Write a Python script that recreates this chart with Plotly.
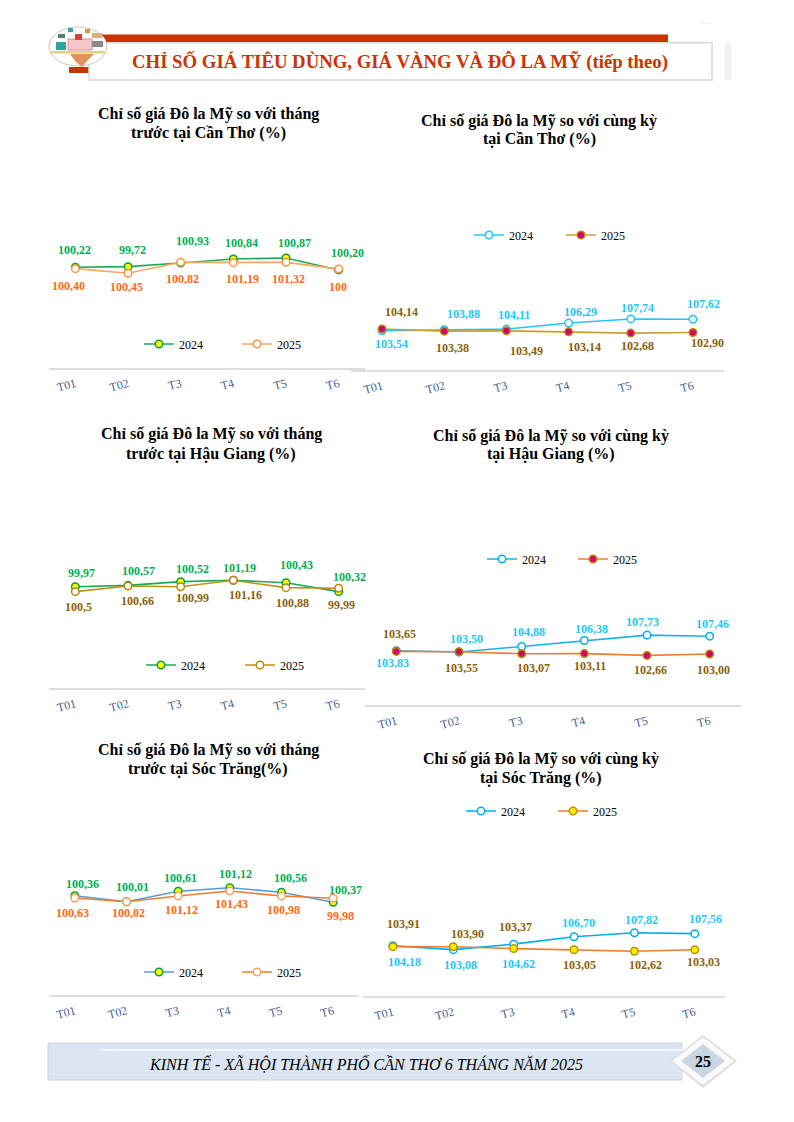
import plotly.graph_objects as go

W = 794
H = 1122
SERIF = "Liberation Serif"

months = ["T01", "T02", "T3", "T4", "T5", "T6"]
series_names = ["2024", "2025"]

# month on month panels: the lines do not sit where their printed labels say,
# so heights read off the lines are kept apart from the printed text
ct_mom_2024 = [100.2, 100.28, 100.74, 101.24, 101.36, 99.87]
ct_mom_2025 = [100.03, 99.45, 100.82, 100.78, 100.82, 100.0]
ct_mom_2024_text = ["100,22", "99,72", "100,93", "100,84", "100,87", "100,20"]
ct_mom_2025_text = ["100,40", "100,45", "100,82", "101,19", "101,32", "100"]

hg_mom_2024 = [100.0, 100.17, 100.63, 100.8, 100.5, 99.38]
hg_mom_2025 = [99.38, 100.09, 100.0, 100.8, 99.88, 99.8]
hg_mom_2024_text = ["99,97", "100,57", "100,52", "101,19", "100,43", "100,32"]
hg_mom_2025_text = ["100,5", "100,66", "100,99", "101,16", "100,88", "99,99"]

st_mom_2024 = [100.36, 99.61, 100.91, 101.36, 100.79, 99.54]
st_mom_2025 = [100.07, 99.61, 100.32, 100.95, 100.32, 100.04]
st_mom_2024_text = ["100,36", "100,01", "100,61", "101,12", "100,56", "100,37"]
st_mom_2025_text = ["100,63", "100,02", "101,12", "101,43", "100,98", "99,98"]

# same period panels
ct_yoy_2024 = [103.54, 103.88, 104.11, 106.29, 107.74, 107.62]
ct_yoy_2025 = [104.14, 103.38, 103.49, 103.14, 102.68, 102.90]
ct_yoy_2024_text = ["103,54", "103,88", "104,11", "106,29", "107,74", "107,62"]
ct_yoy_2025_text = ["104,14", "103,38", "103,49", "103,14", "102,68", "102,90"]

hg_yoy_2024 = [103.83, 103.50, 104.88, 106.38, 107.73, 107.46]
hg_yoy_2025 = [103.65, 103.55, 103.07, 103.11, 102.66, 103.00]
hg_yoy_2024_text = ["103,83", "103,50", "104,88", "106,38", "107,73", "107,46"]
hg_yoy_2025_text = ["103,65", "103,55", "103,07", "103,11", "102,66", "103,00"]

st_yoy_2024 = [104.18, 103.08, 104.62, 106.70, 107.82, 107.56]
st_yoy_2025 = [103.91, 103.90, 103.37, 103.05, 102.62, 103.03]
st_yoy_2024_text = ["104,18", "103,08", "104,62", "106,70", "107,82", "107,56"]
st_yoy_2025_text = ["103,91", "103,90", "103,37", "103,05", "102,62", "103,03"]

GREEN = "#00b050"
ORANGE = "#ff6a13"
BROWN = "#8a5f0a"
CYAN = "#1cc8f8"


def px(x):
    return x / W


def py(y):
    return 1 - y / H


# box = left, right, top, bottom in page pixels; scale = pixels per index point,
# anchor = a value and the page height it sits at
panels = [
    dict(title=["Chỉ số giá Đô la Mỹ so với tháng", "trước tại Cần Thơ (%)"], title_xy=(208, 123.5),
         box=(49, 365, 170, 367.7), scale=8, anchor=(100.2, 267.3), legend_xy=(146, 344), gap=97,
         a=(ct_mom_2024, ct_mom_2024_text, "#1aa85a", "#ffff00", "#00a040", GREEN),
         b=(ct_mom_2025, ct_mom_2025_text, "#f8a860", "#ffffff", "#f79646", ORANGE),
         a_off=[(-1, -17), (4, -17), (12, -22), (8, -16), (8, -15), (9, -17)],
         b_off=[(-7, 17), (-2, 14), (2, 17), (9, 16), (2, 17), (-1, 18)]),
    dict(title=["Chỉ số giá Đô la Mỹ so với cùng kỳ", "tại Cần Thơ (%)"], title_xy=(539, 130),
         box=(351, 724, 170, 370), scale=2.8, anchor=(103.54, 330.7), legend_xy=(476, 235), gap=91,
         a=(ct_yoy_2024, ct_yoy_2024_text, "#1cc8f8", "#ffffff", "#1cc8f8", CYAN),
         b=(ct_yoy_2025, ct_yoy_2025_text, "#c8a030", "#d6006e", "#b8860b", BROWN),
         a_off=[(9, 13), (19, -16), (8, -14), (12, -11), (7, -11), (11, -15)],
         b_off=[(19, -17), (8, 17), (20, 20), (16, 15), (7, 13), (15, 11)]),
    dict(title=["Chỉ số giá Đô la Mỹ so với tháng", "trước tại Hậu Giang (%)"], title_xy=(211, 444),
         box=(49, 365, 490, 688), scale=8, anchor=(100, 586.7), legend_xy=(148, 665), gap=98,
         a=(hg_mom_2024, hg_mom_2024_text, "#1aa85a", "#ffff00", "#00a040", GREEN),
         b=(hg_mom_2025, hg_mom_2025_text, "#c09010", "#ffffff", "#b8860b", BROWN),
         a_off=[(6, -14), (10, -14), (12, -13), (6, -12), (10, -18), (11, -15)],
         b_off=[(3, 15), (9, 15), (12, 11), (12, 15), (6, 15), (3, 17)]),
    dict(title=["Chỉ số giá Đô la Mỹ so với cùng kỳ", "tại Hậu Giang (%)"], title_xy=(551, 445),
         box=(365, 741, 490, 705), scale=4.0, anchor=(103.83, 650.7), legend_xy=(489, 559), gap=90,
         a=(hg_yoy_2024, hg_yoy_2024_text, "#1ab2e8", "#ffffff", "#00aeef", CYAN),
         b=(hg_yoy_2025, hg_yoy_2025_text, "#ed7d31", "#d6006e", "#b8860b", BROWN),
         a_off=[(-4, 12), (7, -13), (7, -15), (7, -12), (-5, -13), (3, -12)],
         b_off=[(3, -17), (2, 16), (12, 14), (6, 12), (3, 15), (4, 16)]),
    dict(title=["Chỉ số giá Đô la Mỹ so với tháng", "trước tại Sóc Trăng(%)"], title_xy=(208, 759.5),
         box=(49, 359, 800, 995), scale=8, anchor=(100.36, 895.7), legend_xy=(146, 972), gap=97,
         a=(st_mom_2024, st_mom_2024_text, "#5b9bd5", "#ffff00", "#00a040", GREEN),
         b=(st_mom_2025, st_mom_2025_text, "#ed7d31", "#ffffff", "#f4a460", ORANGE),
         a_off=[(8, -12), (6, -15), (2, -13), (6, -14), (9, -14), (12, -12)],
         b_off=[(-2, 15), (2, 11), (3, 14), (2, 13), (2, 14), (7, 18)]),
    dict(title=["Chỉ số giá Đô la Mỹ so với cùng kỳ", "tại Sóc Trăng (%)"], title_xy=(541, 768),
         box=(362.7, 725, 800, 996.3), scale=3.57, anchor=(104.18, 945.7), legend_xy=(468, 811), gap=91,
         a=(st_yoy_2024, st_yoy_2024_text, "#00aeef", "#ffffff", "#00aeef", CYAN),
         b=(st_yoy_2025, st_yoy_2025_text, "#ed7d31", "#ffee00", "#c09000", BROWN),
         a_off=[(12, 16), (7, 15), (5, 20), (4, -14), (7, -13), (11, -15)],
         b_off=[(11, -23), (14, -13), (2, -22), (5, 15), (11, 14), (9, 12)]),
]

fig = go.Figure()
annotations = []
layout_extra = {}

for i, p in enumerate(panels):
    n = "" if i == 0 else str(i + 1)
    xname = "x" + n
    yname = "y" + n
    legname = "legend" + n
    left, right, top, bottom = p["box"]
    v0, y0 = p["anchor"]
    ymin = v0 - (bottom - y0) / p["scale"]
    ymax = v0 + (y0 - top) / p["scale"]

    layout_extra["xaxis" + n] = dict(
        domain=[px(left), px(right)], anchor=yname, type="category",
        categoryorder="array", categoryarray=months, range=[-0.5, 5.5],
        showgrid=False, zeroline=False, showline=True, linecolor="#dedede", linewidth=1.5,
        ticks="", tickangle=-15, ticklabelstandoff=3,
        tickfont=dict(family=SERIF, size=12, color="#4a5f96"),
    )
    layout_extra["yaxis" + n] = dict(
        domain=[py(bottom), py(top)], anchor=xname, range=[ymin, ymax],
        visible=False, showgrid=False, zeroline=False,
    )
    lx, ly = p["legend_xy"]
    layout_extra[legname] = dict(
        x=px(lx - 7), y=py(ly), xanchor="left", yanchor="middle", orientation="h",
        bgcolor="rgba(0,0,0,0)", itemwidth=30, entrywidth=p["gap"] - 44, entrywidthmode="pixels",
        font=dict(family=SERIF, size=12, color="#000000"), itemclick=False, itemdoubleclick=False,
        tracegroupgap=0,
    )

    for name, s, off in ((series_names[0], p["a"], p["a_off"]), (series_names[1], p["b"], p["b_off"])):
        vals, texts, line_c, fill_c, border_c, text_c = s
        fig.add_trace(go.Scatter(
            x=months, y=vals, name=name, mode="lines+markers", xaxis=xname, yaxis=yname, legend=legname,
            line=dict(color=line_c, width=1.6),
            marker=dict(size=7.5, color=fill_c, line=dict(color=border_c, width=1.5)),
            hoverinfo="skip",
        ))
        for m, v, t, (dx, dy) in zip(months, vals, texts, off):
            annotations.append(dict(
                x=m, y=v, xref=xname, yref=yname, text="<b>" + t + "</b>", showarrow=False,
                xshift=dx, yshift=-dy, xanchor="center", yanchor="middle",
                font=dict(family=SERIF, size=12, color=text_c),
            ))

    tx, ty = p["title_xy"]
    for line_y, line_text in zip((ty - 9.5, ty + 9.5), p["title"]):
        annotations.append(dict(
            x=px(tx), y=py(line_y), xref="paper", yref="paper", text="<b>" + line_text + "</b>",
            showarrow=False, xanchor="center", yanchor="middle",
            font=dict(family=SERIF, size=16, color="#000000"),
        ))


def rect(x0, y0, x1, y1, fill, line=None, lw=1, kind="rect"):
    return dict(type=kind, xref="paper", yref="paper", x0=px(x0), x1=px(x1), y0=py(y0), y1=py(y1),
                fillcolor=fill, line=dict(color=line or fill, width=lw if line else 0), layer="below")


def poly(points, fill, line=None, lw=1):
    d = "M " + " L ".join(f"{px(a):.5f},{py(b):.5f}" for a, b in points) + " Z"
    return dict(type="path", xref="paper", yref="paper", path=d, fillcolor=fill,
                line=dict(color=line or fill, width=lw if line else 0), layer="below")


shapes = [
    # header
    rect(100, 34.5, 668, 42.3, "#cc3300"),
    rect(69, 67, 89, 73, "#cc3300"),
    rect(89, 42.7, 712, 80, "#ffffff", "#d8d8d8", 1.5),
    rect(725, 43, 731, 80, "#f1f1f1"),
    rect(700, 23, 712, 23.6, "#eeeeee"),
    # basket picture in the header, roughly
    rect(49, 27, 107, 66, "#ffffff", "#c8c8c8", 1, "circle"),
    rect(50, 51, 105, 53.5, "#e8d080"),
    rect(56, 42, 66, 50, "#2aa5a0"),
    rect(68, 39, 92, 50, "#f4c8c8", "#e09090", 1),
    rect(75, 34, 82, 40, "#d84040"),
    rect(58, 34, 65, 38, "#508070"),
    rect(92, 33, 102, 38, "#d8b080"),
    rect(92, 41, 103, 47, "#8a8a8a"),
    rect(85, 29, 90, 33, "#e89030"),
    rect(68, 28, 73, 32, "#40a0a0"),
    poly([(70, 54), (94, 54), (86, 62), (82, 67), (76, 62)], "#e0905c"),
    # footer
    rect(48, 1043, 682, 1080, "#dce6f2", "#cfd3d8", 1),
    rect(102, 1049.5, 684, 1051, "#f4f8fc"),
    poly([(703, 1035), (737, 1061), (703, 1088), (670, 1061)], "#dcdcdc"),
    poly([(703, 1037), (734, 1061), (703, 1085), (672, 1061)], "#fafafa"),
    poly([(703, 1044), (725, 1061), (703, 1078), (681, 1061)], "#c8d6e2"),
]

annotations.append(dict(
    x=px(400), y=py(62), xref="paper", yref="paper", showarrow=False, xanchor="center", yanchor="middle",
    text="<b>CHỈ SỐ GIÁ TIÊU DÙNG, GIÁ VÀNG VÀ ĐÔ LA MỸ (tiếp theo)</b>",
    font=dict(family=SERIF, size=18.75, color="#cc3300"),
))
annotations.append(dict(
    x=px(365.5), y=py(1063), xref="paper", yref="paper", showarrow=False, xanchor="center", yanchor="middle",
    text="<i>KINH TẾ - XÃ HỘI THÀNH PHỐ CẦN THƠ 6 THÁNG NĂM 2025</i>",
    font=dict(family=SERIF, size=16, color="#000000"),
))
annotations.append(dict(
    x=px(703), y=py(1061), xref="paper", yref="paper", showarrow=False, xanchor="center", yanchor="middle",
    text="<b>25</b>", font=dict(family=SERIF, size=16, color="#000000"),
))

fig.update_layout(
    width=W, height=H, margin=dict(l=0, r=0, t=0, b=0), autosize=False,
    paper_bgcolor="#ffffff", plot_bgcolor="rgba(0,0,0,0)",
    showlegend=True, hovermode=False,
    annotations=annotations, shapes=shapes,
    **layout_extra,
)

fig.write_html("out.html", config={"displayModeBar": False}, post_script="document.body.style.margin='0';")
